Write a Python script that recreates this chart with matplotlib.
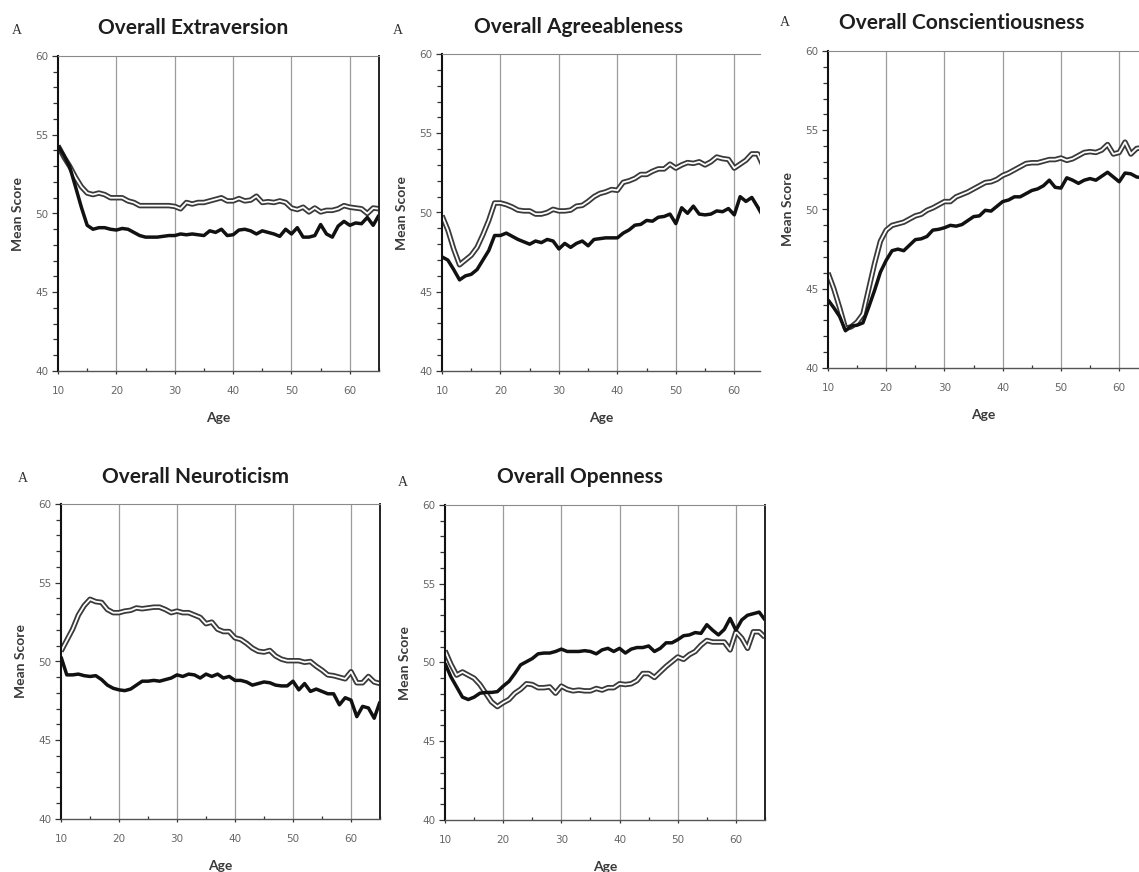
import matplotlib
matplotlib.use("Agg")
import matplotlib.pyplot as plt
from matplotlib.ticker import MultipleLocator

# ---- data: mean score by age (one value per year, starting at age 10) ----
AGE_START = 10

extraversion_hollow = [
    54.3, 53.6, 53.0, 52.3, 51.7, 51.3, 51.2, 51.3, 51.2, 51.0,
    51.0, 51.0, 50.8, 50.7, 50.5, 50.5, 50.5, 50.5, 50.5, 50.5,
    50.45, 50.3, 50.7, 50.6, 50.7, 50.7, 50.8, 50.9, 51.0, 50.8,
    50.8, 50.95, 50.8, 50.85, 51.1, 50.7, 50.75, 50.7, 50.8, 50.7,
    50.35, 50.25, 50.4, 50.1, 50.35, 50.1, 50.2, 50.2, 50.3, 50.5,
    50.4, 50.35, 50.3, 50.0, 50.35, 50.3]
extraversion_solid = [
    54.3, 53.7, 52.97, 51.7, 50.4, 49.25, 49.0, 49.1, 49.1, 49.0,
    48.95, 49.05, 49.0, 48.8, 48.6, 48.5, 48.5, 48.5, 48.55, 48.6,
    48.6, 48.7, 48.65, 48.7, 48.65, 48.6, 48.9, 48.8, 49.0, 48.6,
    48.65, 48.95, 49.0, 48.9, 48.7, 48.9, 48.8, 48.7, 48.55, 49.0,
    48.7, 49.1, 48.5, 48.5, 48.6, 49.3, 48.7, 48.5, 49.2, 49.5,
    49.25, 49.4, 49.35, 49.75, 49.25, 49.9]

agreeableness_hollow = [
    49.8, 48.9, 47.7, 46.7, 47.0, 47.3, 47.8, 48.6, 49.5, 50.6,
    50.6, 50.5, 50.35, 50.15, 50.1, 50.1, 49.9, 49.9, 50.0, 50.2,
    50.1, 50.1, 50.15, 50.4, 50.45, 50.7, 51.0, 51.2, 51.3, 51.45,
    51.4, 51.9, 52.0, 52.15, 52.4, 52.4, 52.6, 52.75, 52.75, 53.05,
    52.8, 53.0, 53.15, 53.1, 53.2, 53.0, 53.2, 53.5, 53.4, 53.35,
    52.8, 53.05, 53.3, 53.7, 53.7, 52.9]
agreeableness_solid = [
    47.2, 47.0, 46.4, 45.75, 46.0, 46.1, 46.4, 47.0, 47.6, 48.55,
    48.55, 48.7, 48.5, 48.3, 48.15, 48.0, 48.2, 48.1, 48.3, 48.2,
    47.7, 48.05, 47.8, 48.05, 48.2, 47.9, 48.3, 48.35, 48.4, 48.4,
    48.4, 48.7, 48.9, 49.2, 49.25, 49.5, 49.45, 49.7, 49.75, 49.9,
    49.3, 50.3, 49.95, 50.4, 49.9, 49.85, 49.9, 50.1, 50.05, 50.25,
    49.85, 51.0, 50.7, 50.95, 50.35, 49.7]

conscientiousness_hollow = [
    46.0, 45.0, 43.8, 42.5, 42.6, 42.9, 43.4, 45.0, 46.6, 48.0,
    48.7, 49.0, 49.1, 49.2, 49.4, 49.6, 49.7, 49.95, 50.1, 50.3,
    50.5, 50.5, 50.8, 50.95, 51.1, 51.3, 51.5, 51.7, 51.75, 51.9,
    52.15, 52.3, 52.5, 52.7, 52.9, 52.95, 52.95, 53.05, 53.15, 53.15,
    53.25, 53.1, 53.2, 53.4, 53.6, 53.65, 53.6, 53.75, 54.1, 53.5,
    53.6, 54.25, 53.5, 53.85, 53.9]
conscientiousness_solid = [
    44.3, 43.8, 43.25, 42.35, 42.65, 42.7, 42.85, 43.85, 44.9, 46.05,
    46.8, 47.4, 47.5, 47.4, 47.75, 48.1, 48.15, 48.3, 48.7, 48.75,
    48.85, 49.0, 48.95, 49.05, 49.3, 49.55, 49.6, 49.95, 49.9, 50.2,
    50.5, 50.6, 50.8, 50.8, 51.0, 51.2, 51.3, 51.5, 51.85, 51.4,
    51.35, 52.0, 51.85, 51.65, 51.85, 51.95, 51.85, 52.1, 52.35, 52.05,
    51.75, 52.3, 52.25, 52.05, 52.0]

neuroticism_hollow = [
    50.65, 51.35, 52.05, 52.95, 53.55, 53.95, 53.8, 53.75, 53.3, 53.1,
    53.1, 53.2, 53.25, 53.4, 53.35, 53.4, 53.45, 53.45, 53.3, 53.1,
    53.2, 53.1, 53.1, 52.95, 52.8, 52.4, 52.5, 52.05, 51.9, 51.9,
    51.5, 51.4, 51.15, 50.85, 50.65, 50.6, 50.7, 50.35, 50.15, 50.05,
    50.05, 50.05, 49.95, 50.0, 49.7, 49.45, 49.15, 49.1, 49.0, 48.9,
    49.35, 48.65, 48.65, 49.05, 48.7, 48.6]
neuroticism_solid = [
    50.3, 49.15, 49.15, 49.2, 49.1, 49.05, 49.1, 48.85, 48.5, 48.3,
    48.2, 48.15, 48.25, 48.5, 48.75, 48.75, 48.8, 48.75, 48.85, 48.95,
    49.15, 49.05, 49.2, 49.15, 48.95, 49.2, 49.05, 49.2, 48.95, 49.05,
    48.8, 48.8, 48.7, 48.5, 48.6, 48.7, 48.65, 48.5, 48.45, 48.45,
    48.75, 48.2, 48.6, 48.1, 48.25, 48.1, 47.95, 47.95, 47.25, 47.7,
    47.55, 46.5, 47.15, 47.05, 46.4, 47.45]

openness_hollow = [
    50.75, 49.9, 49.2, 49.4, 49.2, 49.0, 48.6, 48.05, 47.5, 47.2,
    47.45, 47.65, 48.05, 48.3, 48.65, 48.6, 48.4, 48.4, 48.45, 48.05,
    48.5, 48.3, 48.2, 48.25, 48.2, 48.2, 48.35, 48.25, 48.4, 48.4,
    48.65, 48.6, 48.65, 48.85, 49.3, 49.3, 49.05, 49.4, 49.75, 50.05,
    50.35, 50.2, 50.5, 50.7, 51.1, 51.4, 51.3, 51.3, 51.3, 50.8,
    51.95, 51.55, 50.9, 51.95, 51.95, 51.6]
openness_solid = [
    49.95, 49.1, 48.45, 47.8, 47.65, 47.8, 48.05, 48.1, 48.1, 48.15,
    48.5, 48.8, 49.3, 49.85, 50.05, 50.25, 50.55, 50.6, 50.6, 50.7,
    50.85, 50.7, 50.7, 50.7, 50.75, 50.7, 50.55, 50.8, 50.9, 50.7,
    50.9, 50.6, 50.85, 50.95, 50.95, 51.05, 50.7, 50.9, 51.25, 51.25,
    51.45, 51.7, 51.75, 51.9, 51.85, 52.4, 52.05, 51.75, 52.1, 52.8,
    52.05, 52.7, 53.0, 53.1, 53.2, 52.7]

titles = ["Overall Extraversion", "Overall Agreeableness",
          "Overall Conscientiousness", "Overall Neuroticism",
          "Overall Openness"]
panel_letter = "A"
x_label = "Age"
y_label = "Mean Score"
x_ticks = [10, 20, 30, 40, 50, 60]
y_ticks = [40, 45, 50, 55, 60]

series = [
    (extraversion_hollow, extraversion_solid),
    (agreeableness_hollow, agreeableness_solid),
    (conscientiousness_hollow, conscientiousness_solid),
    (neuroticism_hollow, neuroticism_solid),
    (openness_hollow, openness_solid),
]

# ---- layout (pixel boxes: left, top, right, bottom) ----
W, H = 1139, 872
boxes = [
    (58, 56, 379, 371),
    (442, 54, 760, 371),
    (828, 51, 1139, 368),
    (61, 504, 380, 819),
    (445, 505, 765, 820),
]
x_max = [65.0, 64.4, 63.4, 65.0, 65.0]
right_spine = [True, False, False, True, True]
title_pos = [(193, 28), (578, 27), (962, 23), (195, 477), (580, 477)]
letter_pos = [(17, 31), (398, 30), (785, 23), (23, 479), (403, 482)]

fig = plt.figure(figsize=(W / 100, H / 100), dpi=100)
fig.patch.set_facecolor("white")

LABEL_FONT = ["Lato", "DejaVu Sans"]

for i, (box, (hollow, solid)) in enumerate(zip(boxes, series)):
    l, t, r, b = box
    ax = fig.add_axes([l / W, 1 - b / H, (r - l) / W, (b - t) / H])
    ax.set_xlim(10, x_max[i])
    ax.set_ylim(40, 60)

    ages_h = list(range(AGE_START, AGE_START + len(hollow)))
    ages_s = list(range(AGE_START, AGE_START + len(solid)))

    # vertical grid
    for gx in x_ticks[1:]:
        ax.axvline(gx, color="#9c9c9c", lw=0.9, zorder=1)

    # double (outlined) line and solid line
    ax.plot(ages_h, hollow, color="#3a3a3a", lw=3.9, solid_joinstyle="round",
            solid_capstyle="butt", zorder=3)
    ax.plot(ages_h, hollow, color="white", lw=1.3, solid_joinstyle="round",
            solid_capstyle="butt", zorder=4)
    ax.plot(ages_s, solid, color="#111111", lw=2.5, solid_joinstyle="round",
            solid_capstyle="butt", zorder=5)

    # spines
    ax.spines["left"].set_color("#111111")
    ax.spines["left"].set_linewidth(1.5)
    ax.spines["bottom"].set_color("#555555")
    ax.spines["bottom"].set_linewidth(1.0)
    ax.spines["top"].set_color("#8a8a8a")
    ax.spines["top"].set_linewidth(0.8)
    if right_spine[i]:
        ax.spines["right"].set_color("#222222")
        ax.spines["right"].set_linewidth(1.4)
    else:
        ax.spines["right"].set_visible(False)
    for s in ax.spines.values():
        s.set_zorder(6)

    # ticks
    ax.set_xticks(x_ticks)
    ax.set_xticklabels([str(v) for v in x_ticks])
    ax.xaxis.set_minor_locator(MultipleLocator(5))
    ax.set_yticks(y_ticks)
    ax.set_yticklabels([str(v) for v in y_ticks])
    ax.yaxis.set_minor_locator(MultipleLocator(1))
    ax.tick_params(axis="x", which="major", direction="out", length=2.5,
                   width=0.9, color="#333333", pad=8.5, labelsize=7.5,
                   labelcolor="#666666")
    ax.tick_params(axis="x", which="minor", direction="in", length=2.5,
                   width=0.9, color="#333333")
    ax.tick_params(axis="y", which="major", direction="out", length=4,
                   width=0.9, color="#333333", pad=3, labelsize=7.5,
                   labelcolor="#666666")
    ax.tick_params(axis="y", which="minor", direction="out", length=3.5,
                   width=0.9, color="#333333")

    # axis labels
    w_px = r - l
    h_px = b - t
    ax.text(-40 / w_px, 0.5, y_label, transform=ax.transAxes, rotation=90,
            ha="center", va="center", fontsize=10, fontweight="bold",
            color="#3a3a3a", family=LABEL_FONT)
    ax.text(0.5 * min(w_px, 320) / w_px, -47 / h_px, x_label,
            transform=ax.transAxes, ha="center", va="center", fontsize=10,
            fontweight="bold", color="#3a3a3a", family=LABEL_FONT)

    # title and panel letter
    tx, ty = title_pos[i]
    fig.text(tx / W, 1 - ty / H, titles[i], ha="center", va="center",
             fontsize=15, fontweight="bold", color="#1e1e1e",
             family=LABEL_FONT)
    lx, ly = letter_pos[i]
    fig.text(lx / W, 1 - ly / H, panel_letter, ha="center", va="center",
             fontsize=10, color="#333333", family=["Liberation Serif"])

fig.savefig("out.png", dpi=100, facecolor="white")
